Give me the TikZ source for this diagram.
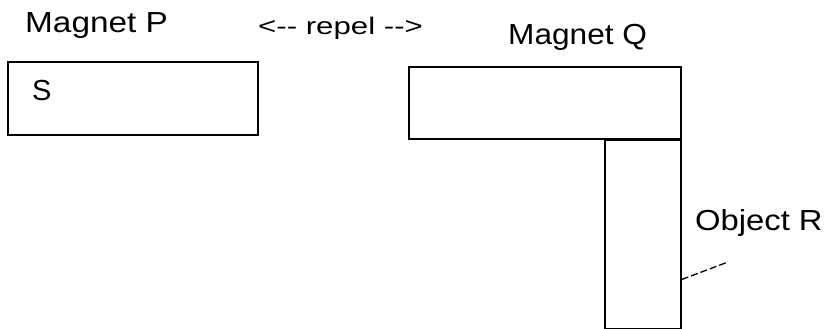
\documentclass[tikz,border=0pt]{standalone}
\usepackage{fontspec}
\usepackage{graphicx}
\setmainfont{Liberation Sans}
\begin{document}
\begin{tikzpicture}[x=1pt,y=-1pt,
  magnet/.style={draw,line width=1.5pt,inner sep=0pt},
  lbl/.style={inner sep=0pt,anchor=base west,font=\fontsize{29}{32}\selectfont},
  smalllbl/.style={inner sep=0pt,anchor=base west,font=\fontsize{24}{28}\selectfont}]
\useasboundingbox (0,0) rectangle (831,329);
\node[magnet,minimum width=250pt,minimum height=73pt] (P) at (133,98.5) {};
\node[magnet,minimum width=272pt,minimum height=72pt] (Q) at (545,103) {};
\node[magnet,minimum width=76pt,minimum height=188pt,anchor=north east] (R) at (Q.south east) {};
\node[lbl] (S) at (32,100) {S};
\node[lbl] (lP) at (25,33) {\scalebox{1.15}[1]{Magnet P}};
\node[smalllbl] (rep) at (258,35) {\scalebox{1.3}[1]{<{-}{-} repel {-}{-}>}};
\node[lbl] (lQ) at (508,45) {\scalebox{1.09}[1]{Magnet Q}};
\node[lbl] (lR) at (695,230) {\scalebox{1.13}[1]{Object R}};
\coordinate (lead) at (728,262);
\draw[line width=1.3pt,dash pattern=on 7pt off 3pt] ([yshift=-45pt]R.east) -- (lead);
\end{tikzpicture}
\end{document}
